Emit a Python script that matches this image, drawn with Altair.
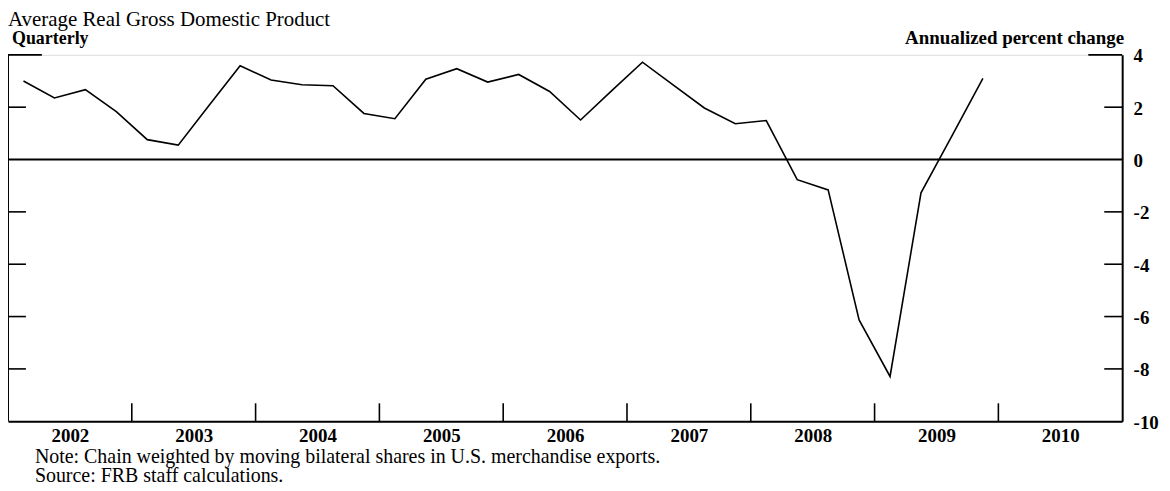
import altair as alt
import pandas as pd

# Quarterly annualized percent change, 2002Q1 - 2009Q4
years = [2002] * 4 + [2003] * 4 + [2004] * 4 + [2005] * 4 + [2006] * 4 + [2007] * 4 + [2008] * 4 + [2009] * 4
quarters = [1, 2, 3, 4] * 8
values = [
    3.0, 2.35, 2.67, 1.83,
    0.76, 0.55, 2.07, 3.58,
    3.04, 2.86, 2.82, 1.76,
    1.56, 3.07, 3.47, 2.96,
    3.25, 2.60, 1.51, 2.62,
    3.72, 2.84, 1.97, 1.37,
    1.49, -0.77, -1.16, -6.13,
    -8.29, -1.27, 0.90, 3.10,
]
year_labels = [2002, 2003, 2004, 2005, 2006, 2007, 2008, 2009, 2010]
y_ticks = [4, 2, 0, -2, -4, -6, -8, -10]
inner_ticks = [2, -2, -4, -6, -8]

title_text = "Average Real Gross Domestic Product"
left_label = "Quarterly"
right_label = "Annualized percent change"
note_text = "Note: Chain weighted by moving bilateral shares in U.S. merchandise exports."
source_text = "Source: FRB staff calculations."

W, H = 1119, 368
FONT = "Liberation Serif"

df = pd.DataFrame({
    "t": [y + (q - 0.5) / 4 for y, q in zip(years, quarters)],
    "v": values,
})

xscale = alt.Scale(domain=[2002, 2011], nice=False, zero=False)
yscale = alt.Scale(domain=[-10, 4], nice=False, zero=False)

line = alt.Chart(df).mark_line(color="black", strokeWidth=1.6).encode(
    x=alt.X("t:Q", scale=xscale, axis=alt.Axis(
        values=[y + 0.5 for y in year_labels],
        labelExpr="floor(datum.value)",
        ticks=False, tickSize=0, grid=False,
        domain=True, domainColor="black", domainWidth=2,
        labelFont=FONT, labelFontSize=19, labelFontWeight="bold", labelColor="black",
        labelBaseline="alphabetic", labelPadding=20, title=None,
    )),
    y=alt.Y("v:Q", scale=yscale, axis=alt.Axis(
        orient="right", values=y_ticks, ticks=False, tickSize=0, grid=False,
        domain=True, domainColor="black", domainWidth=2,
        labelExpr="datum.value < 0 ? '-' + abs(datum.value) : '' + datum.value",
        labelFont=FONT, labelFontSize=19, labelFontWeight="bold", labelColor="black",
        labelPadding=11, labelAlign="left", labelBaseline="middle", labelOffset=1, title=None,
    )),
)

# left border
left_border = alt.Chart(pd.DataFrame({"a": [2002], "lo": [-10], "hi": [4]})).mark_rule(
    color="black", strokeWidth=2).encode(
    x=alt.X("a:Q", scale=xscale), y=alt.Y("lo:Q", scale=yscale), y2="hi:Q")

zero_line = alt.Chart(pd.DataFrame({"z": [0]})).mark_rule(color="black", strokeWidth=2).encode(
    y=alt.Y("z:Q", scale=yscale), x=alt.value(0), x2=alt.value(W))

tick_df = pd.DataFrame({"tv": inner_ticks})
left_ticks = alt.Chart(tick_df).mark_rule(color="black", strokeWidth=1.6).encode(
    y=alt.Y("tv:Q", scale=yscale), x=alt.value(0), x2=alt.value(18))
right_ticks = alt.Chart(tick_df).mark_rule(color="black", strokeWidth=1.6).encode(
    y=alt.Y("tv:Q", scale=yscale), x=alt.value(W - 18), x2=alt.value(W))

top_df = pd.DataFrame({"tv": [4]})
top_left = alt.Chart(top_df).mark_rule(color="black", strokeWidth=1.6).encode(
    y=alt.Y("tv:Q", scale=yscale), x=alt.value(0), x2=alt.value(34))
top_right = alt.Chart(top_df).mark_rule(color="black", strokeWidth=1.6).encode(
    y=alt.Y("tv:Q", scale=yscale), x=alt.value(W - 34), x2=alt.value(W))

year_bounds = pd.DataFrame({"b": [y for y in year_labels[1:]]})
x_ticks = alt.Chart(year_bounds).mark_rule(color="black", strokeWidth=1.6).encode(
    x=alt.X("b:Q", scale=xscale), y=alt.value(H), y2=alt.value(H - 18))

def txt(s, x, y, size=18, weight="normal", align="left"):
    return alt.Chart(pd.DataFrame({"s": [s]})).mark_text(
        font=FONT, fontSize=size, fontWeight=weight, color="black",
        align=align, baseline="alphabetic").encode(
        text="s:N", x=alt.value(x), y=alt.value(y))

texts = [
    txt(title_text, 0, -29, size=21),
    txt(left_label, 4, -11, size=18, weight="bold"),
    txt(right_label, W + 2, -11, size=19, weight="bold", align="right"),
    txt(note_text, 27, H + 42, size=20),
    txt(source_text, 27, H + 61, size=20),
]

chart = alt.layer(
    zero_line, left_border, left_ticks, right_ticks, top_left, top_right, x_ticks, line, *texts
).properties(
    width=W, height=H,
    autosize=alt.AutoSizeParams(type="none"),
    padding={"left": 0, "top": 46, "right": 40, "bottom": 65},
).configure_view(stroke=None).configure(background="white")

chart.save("out.html", embed_options={"renderer": "svg", "actions": False})
